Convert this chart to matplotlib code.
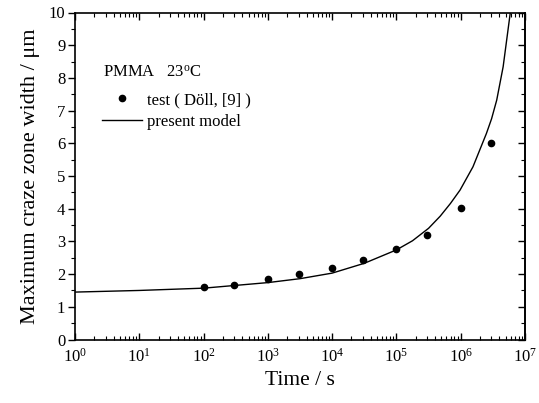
import matplotlib
matplotlib.use("Agg")
import matplotlib.pyplot as plt
from matplotlib.ticker import LogLocator, MultipleLocator, NullFormatter

plt.rcParams['font.family'] = ['Liberation Serif', 'DejaVu Serif']
plt.rcParams['mathtext.fontset'] = 'custom'
plt.rcParams['mathtext.rm'] = 'Liberation Serif'
plt.rcParams['mathtext.it'] = 'Liberation Serif:italic'
plt.rcParams['mathtext.bf'] = 'Liberation Serif:bold'

# test data (Döll, [9])
test_time = [1e2, 3e2, 1e3, 3e3, 1e4, 3e4, 1e5, 3e5, 1e6, 3e6]
test_width = [1.60, 1.67, 1.84, 2.01, 2.19, 2.42, 2.77, 3.19, 4.01, 6.01]

# present model curve
model_time = [1e0, 1e1, 1e2, 1e3, 3.16e3, 1e4, 3.16e4, 1e5, 1.78e5, 3.16e5,
              4.79e5, 6.92e5, 9.77e5, 1.55e6, 2.51e6, 3.02e6, 3.63e6, 4.57e6, 5.89e6]
model_width = [1.45, 1.50, 1.57, 1.74, 1.86, 2.03, 2.33, 2.74, 3.02, 3.40,
               3.77, 4.16, 4.57, 5.28, 6.30, 6.75, 7.32, 8.34, 9.98]

x_label = "Time / s"
y_label = "Maximum craze zone width / \u03bcm"

fig = plt.figure(figsize=(5.39, 4.03), dpi=100)
fig_h = 403
ax = fig.add_axes([75/539, 1-339.5/403, 450/539, 327/403])

ax.plot(model_time, model_width, color='black', lw=1.0, label='present model')
ax.plot(test_time, test_width, 'o', color='black', ms=4.5, label='test ( Döll, [9] )')

ax.set_xscale('log')
ax.set_xlim(1, 1e7)
ax.set_ylim(0, 10)
ax.xaxis.set_major_locator(LogLocator(base=10, numticks=10))
ax.xaxis.set_minor_locator(LogLocator(base=10, subs=range(2, 10), numticks=100))
ax.xaxis.set_minor_formatter(NullFormatter())
ax.yaxis.set_major_locator(MultipleLocator(1))
ax.yaxis.set_minor_locator(MultipleLocator(0.5))

ax.tick_params(axis='x', which='both', direction='in', top=True, bottom=True, labelsize=12, pad=6)
ax.tick_params(axis='x', which='major', length=5, width=1)
ax.tick_params(axis='x', which='minor', length=3, width=0.8)
ax.tick_params(axis='y', which='both', direction='out', left=True, right=False, labelsize=12, pad=2)
ax.tick_params(axis='y', which='major', length=5, width=1)
ax.tick_params(axis='y', which='minor', length=3, width=0.8)

sec = ax.secondary_yaxis('right')
sec.yaxis.set_major_locator(MultipleLocator(1))
sec.yaxis.set_minor_locator(MultipleLocator(0.5))
sec.tick_params(which='both', direction='in', labelright=False)
sec.tick_params(which='major', length=5, width=1)
sec.tick_params(which='minor', length=3, width=0.8)

for s in ax.spines.values():
    s.set_linewidth(1.2)
sec.spines['right'].set_linewidth(1.2)

ax.set_xlabel(x_label, fontsize=15.5, labelpad=4)
ax.set_ylabel(y_label, fontsize=16, labelpad=6)

ax.text(103, fig_h - 73, "PMMA   23$^{\\rm o}$C", transform=None, fontsize=12, va='center', ha='left')

def ax_frac(px, py):
    inv = ax.transAxes.inverted()
    return inv.transform((px, fig_h - py))

ax.legend(loc='upper left', bbox_to_anchor=(ax_frac(102, 92)), frameon=False, fontsize=12,
          handlelength=2.4, handletextpad=0.3, labelspacing=0.35, borderpad=0, borderaxespad=0,
          handles=ax.get_lines()[::-1])

fig.savefig("out.png", dpi=100)
